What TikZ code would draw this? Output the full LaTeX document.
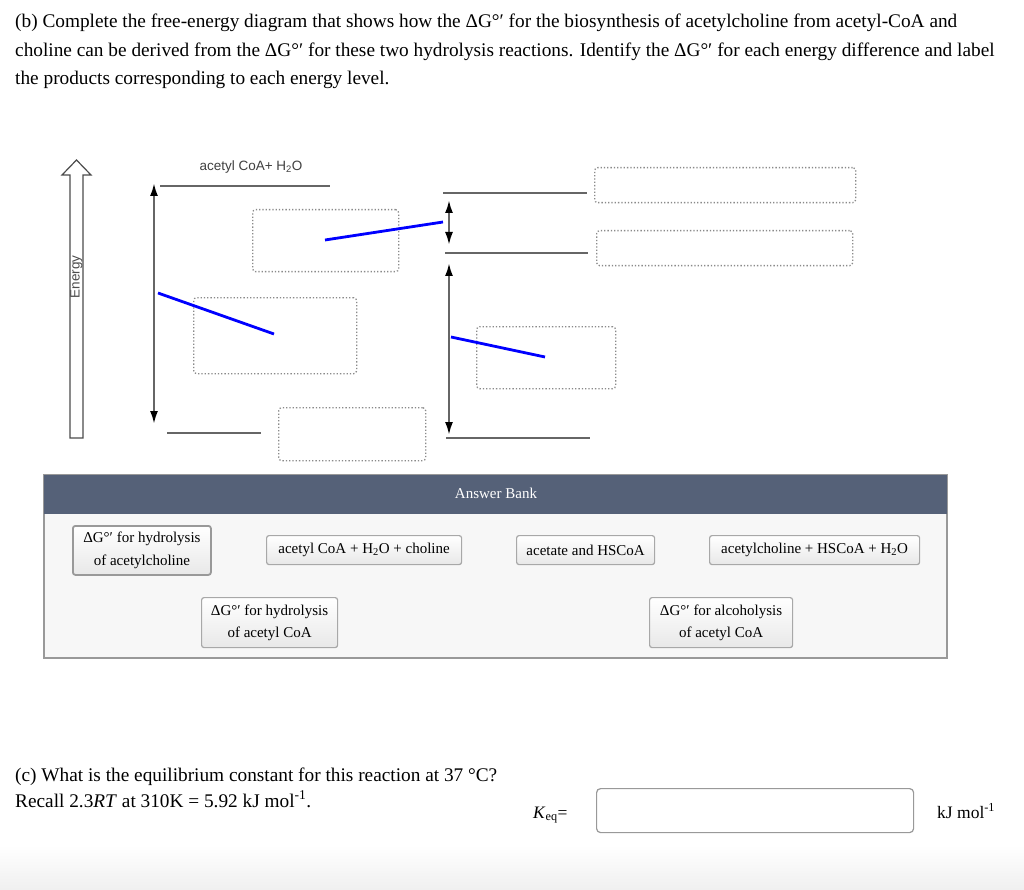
\documentclass[tikz,border=0pt]{standalone}
\usepackage{fontspec}
\setmainfont{Liberation Serif}
\newfontfamily\arialf{Liberation Sans}
\usetikzlibrary{arrows.meta,shadings}
\definecolor{hdr}{HTML}{556178}
\definecolor{lvl}{HTML}{666666}
\definecolor{dotc}{HTML}{8A8A8A}
\definecolor{btnb}{HTML}{A8A8A8}
\begin{document}
\begin{tikzpicture}[x=1pt,y=-1pt,
  qtext/.style={anchor=base west,inner sep=0pt,font=\fontsize{19.3}{22}\selectfont},
  level/.style={draw=lvl,line width=2.6pt},
  dbl/.style={draw=lvl,line width=2.2pt,{Latex[length=13pt,width=8pt,black]}-{Latex[length=13pt,width=8pt,black]}},
  blue line/.style={draw=blue,line width=2.8pt},
  dropbox/.style={draw=dotc,dotted,line width=1.3pt,rounded corners=3pt,anchor=north west,inner sep=0pt},
  btn/.style={draw=btnb,line width=1.2pt,rounded corners=2.5pt,inner sep=0pt,align=center,
    top color=white,bottom color=black!9,font=\fontsize{15}{22.5}\selectfont,anchor=north west},
]
\useasboundingbox (0,0) rectangle (1024,890);
\fill[white] (0,0) rectangle (1024,890);
\shade[top color=white,bottom color=black!6] (0,845) rectangle (1024,890);

% question (b)
\node[qtext] (qb1) at (15,28) {(b) Complete the free-energy diagram that shows how the ΔG°′ for the biosynthesis of acetylcholine from acetyl-CoA and};
\node[qtext] (qb2) at (15,57) {choline can be derived from the ΔG°′ for these two hydrolysis reactions. Identify the ΔG°′ for each energy difference and label};
\node[qtext] (qb3) at (15,85) {the products corresponding to each energy level.};

% energy arrow
\draw[black!70,line width=1.2pt,fill=white] (70,438) -- (70,175) -- (62,175) -- (76.5,160) -- (91,175) -- (83,175) -- (83,438) -- cycle;
\node[rotate=90,font=\arialf\fontsize{13.5}{15}\selectfont,text=black!70,inner sep=0pt] (energy) at (76.5,277) {Energy};

% label
\node[font=\arialf\fontsize{13.5}{15}\selectfont,text=black!75,inner sep=0pt] (lab) at (251,167) {acetyl CoA+ H\textsubscript{2}O};

% levels
\coordinate (l1a) at (160,186); \coordinate (l1b) at (330,186);
\coordinate (l2a) at (167,433); \coordinate (l2b) at (261,433);
\coordinate (l3a) at (443,193); \coordinate (l3b) at (587,193);
\coordinate (l4a) at (445,253); \coordinate (l4b) at (588,253);
\coordinate (l5a) at (446,438); \coordinate (l5b) at (590,438);
\draw[level] (l1a) -- (l1b);
\draw[level] (l2a) -- (l2b);
\draw[level] (l3a) -- (l3b);
\draw[level] (l4a) -- (l4b);
\draw[level] (l5a) -- (l5b);

% double arrows
\coordinate (a1t) at (154,183); \coordinate (a1b) at (154,424);
\coordinate (a2t) at (449,200); \coordinate (a2b) at (449,245);
\coordinate (a3t) at (449,263); \coordinate (a3b) at (449,435);
\draw[dbl] (a1t) -- (a1b);
\draw[dbl] (a2t) -- (a2b);
\draw[dbl] (a3t) -- (a3b);

% drop boxes
\node[dropbox,minimum width=146pt,minimum height=62pt] (d1) at (252,209) {};
\node[dropbox,minimum width=163pt,minimum height=76pt] (d2) at (193,297) {};
\node[dropbox,minimum width=147pt,minimum height=53pt] (d3) at (278,407) {};
\node[dropbox,minimum width=261pt,minimum height=35pt] (d4) at (594,167) {};
\node[dropbox,minimum width=256pt,minimum height=35pt] (d5) at (596,230) {};
\node[dropbox,minimum width=139pt,minimum height=62pt] (d6) at (476,326) {};

% blue lines
\coordinate (b1a) at (158,293); \coordinate (b1b) at (274,334);
\coordinate (b2a) at (325,240); \coordinate (b2b) at (443,222);
\coordinate (b3a) at (451,337); \coordinate (b3b) at (545,357);
\draw[blue line] (b1a) -- (b1b);
\draw[blue line] (b2a) -- (b2b);
\draw[blue line] (b3a) -- (b3b);

% answer bank
\filldraw[fill=black!3,draw=black!40,line width=1.2pt] (44,475) rectangle (947,658);
\fill[hdr] (44,475) rectangle (947,514);
\node[text=white,font=\fontsize{15}{17}\selectfont,inner sep=0pt] (ab) at (496,493) {Answer Bank};

\node[btn,draw=black!40,line width=1.8pt,minimum width=138pt,minimum height=49pt] (k1) at (72,525) {ΔG°′ for hydrolysis\\of acetylcholine};
\node[btn,minimum width=195pt,minimum height=29pt] (k2) at (266,535) {acetyl CoA + H\textsubscript{2}O + choline};
\node[btn,minimum width=138pt,minimum height=29pt] (k3) at (516,535) {acetate and HSCoA};
\node[btn,minimum width=210pt,minimum height=29pt] (k4) at (709,535) {acetylcholine + HSCoA + H\textsubscript{2}O};
\node[btn,minimum width=136pt,minimum height=50pt] (k5) at (201,597) {ΔG°′ for hydrolysis\\of acetyl CoA};
\node[btn,minimum width=143pt,minimum height=50pt] (k6) at (649,597) {ΔG°′ for alcoholysis\\of acetyl CoA};

% question (c)
\node[qtext] (qc1) at (15,781) {(c) What is the equilibrium constant for this reaction at 37 °C?};
\node[qtext] (qc2) at (15,807) {Recall 2.3\textit{RT} at 310K = 5.92 kJ mol\textsuperscript{-1}.};
\node[qtext,font=\fontsize{17.5}{20}\selectfont] (keq) at (533,818) {\textit{K}\textsubscript{eq}=};
\node[draw=black!40,line width=1.2pt,rounded corners=4pt,minimum width=317pt,minimum height=44pt,anchor=north west,inner sep=0pt] (inp) at (596,788) {};
\node[qtext,font=\fontsize{17.5}{20}\selectfont] (unit) at (937,818) {kJ mol\textsuperscript{-1}};
\end{tikzpicture}
\end{document}
